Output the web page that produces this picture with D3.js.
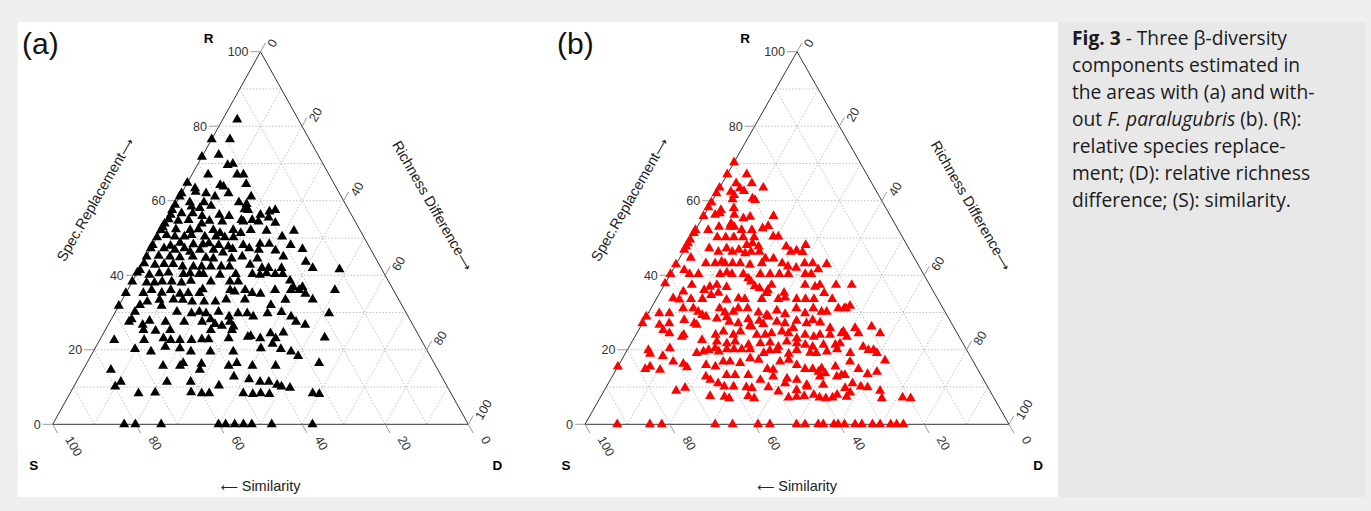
<!DOCTYPE html>
<html><head><meta charset="utf-8">
<script src="https://cdn.jsdelivr.net/npm/d3@7"></script>
<style>body{margin:0;background:#efefef;}svg{display:block}</style>
</head><body><svg id="c" width="1371" height="511"></svg>
<script>
// ---- data (ternary compositions, %) ----
const tickValues = [0, 20, 40, 60, 80, 100];
const gridValues = [10, 20, 30, 40, 50, 60, 70, 80, 90];
const vertexLabels = ["R", "S", "D"];
const axisTitles = [["Spec.Replacement", "\u27f6"], ["Richness Difference", "\u27f6"], ["\u27f5", " Similarity"]];
const panelLabels = ["(a)", "(b)"];

// Panel (a): relative species replacement (R) and relative richness difference (D); S = 100 - R - D
const rA = [81.8,76.5,76.5,71.8,72.3,69.6,69.9,67.0,67.0,67.0,64.8,64.5,63.3,64.2,63.8,62.0,62.4,62.0,61.1,62.0,61.1,61.1,59.6,59.6,59.6,59.1,58.9,57.5,58.4,58.0,58.6,57.5,57.1,57.5,56.2,57.7,56.2,55.0,56.6,56.6,55.9,56.2,55.9,54.8,54.8,54.1,53.9,52.9,54.6,54.8,53.9,54.6,54.4,54.4,54.4,55.5,52.1,52.3,52.1,52.3,52.1,51.3,52.1,52.1,51.9,51.9,51.3,50.2,50.8,50.4,50.4,50.8,50.4,50.4,50.2,50.2,50.4,48.1,47.9,48.7,48.3,48.3,48.6,48.1,47.7,48.1,47.2,48.4,48.4,48.1,47.2,47.2,46.8,47.2,46.3,46.8,46.8,46.1,47.0,46.8,46.6,47.0,45.0,45.2,45.0,44.8,45.0,44.7,44.5,44.5,45.0,44.5,45.0,43.2,42.8,43.0,43.0,42.3,42.3,42.3,42.3,42.3,42.3,42.8,41.9,41.9,41.9,43.6,41.9,41.6,41.4,40.7,40.1,40.5,40.7,40.3,40.5,40.3,40.3,40.1,40.3,40.3,40.1,40.5,40.3,40.3,38.6,38.3,38.0,38.0,38.3,38.3,38.0,38.5,38.3,38.3,38.3,36.8,36.8,35.2,35.2,36.0,35.3,36.0,35.0,35.2,35.2,36.2,36.0,35.6,36.0,35.2,35.0,36.0,36.0,36.0,35.0,36.0,31.8,32.0,32.9,33.4,33.5,33.4,32.9,32.9,32.9,33.5,33.5,32.0,33.4,33.5,30.2,31.8,30.2,29.8,30.2,29.8,30.2,29.8,29.8,29.8,30.1,29.8,28.9,28.2,27.5,28.2,26.7,27.8,27.5,27.5,27.5,26.9,27.5,26.2,26.4,27.5,26.7,28.9,28.9,25.3,25.1,25.3,25.3,25.3,23.7,24.4,24.6,22.6,22.6,23.1,22.6,22.6,22.6,22.8,22.8,23.1,23.5,23.1,23.1,23.3,20.2,19.5,20.8,20.4,19.5,19.5,19.5,20.4,21.6,20.2,19.5,18.3,15.7,15.7,16.4,14.6,16.2,15.7,16.4,15.7,15.7,16.4,14.6,12.8,12.1,11.4,11.4,11.4,11.4,10.6,11.4,10.1,10.4,10.1,9.8,8.3,8.5,8.6,8.3,8.3,8.3,8.1,8.3,8.1,8.3,8.1,0,0,0,0,0,0,0,0,0,0];
const dA = [3.5,0,4.4,0,3.8,7.3,8.4,3.9,10.9,12.4,0,14.3,2.6,8.2,9.2,11.3,3.2,0,0,5.9,8.5,17.2,3.2,6.6,15.0,17.1,0,0,4.2,6.4,8.8,18.3,23.6,24.8,21.9,17.3,0.3,0.4,2.7,5.4,8.0,12.0,14.5,18.0,20.6,26.5,0,0,2.9,5.3,8.9,10.4,13.6,18.7,22.3,24.2,0,3.5,7.0,8.9,12.6,14.6,17.4,21.6,25.5,32.1,19.6,0,2.0,4.2,6.5,8.0,11.4,14.1,16.3,18.4,30.0,0,4.4,6.3,9.7,12.0,13.3,15.9,18.4,21.8,23.7,25.7,27.9,33.2,0,3.2,6.0,8.1,9.9,12.0,15.3,17.9,19.8,26.2,30.3,36.6,0.1,2.9,5.7,8.2,11.2,14.5,16.4,20.8,23.1,27.0,33.0,0.4,3.2,5.3,7.5,10.1,12.7,14.7,16.9,19.4,21.4,26.1,29.4,31.0,34.1,39.1,41.6,48.2,0.3,0,3.2,5.4,7.5,11.3,12.8,15.1,16.1,20.2,23.9,27.9,29.8,31.2,33.4,35.2,37.8,0,3.6,5.5,7.2,9.5,12.0,14.0,18.9,23.5,25.5,39.5,41.7,0,4.2,5.8,8.6,10.4,13.1,15.0,17.7,18.0,24.7,26.0,28.3,30.4,32.5,35.5,39.3,41.3,43.3,49.9,0,5.0,6.3,9.0,12.3,14.6,17.1,20.0,22.7,25.0,29.5,36.5,39.3,45.8,4.7,10.3,14.8,18.5,20.2,22.0,24.8,29.7,31.9,36.8,40.0,51.6,28.0,23.9,4.6,4.9,8.3,9.4,13.4,17.9,22.2,25.6,28.9,30.4,27.5,44.8,47.4,42.9,33.8,9.2,12.2,15.6,25.4,30.5,35.8,40.2,43.2,3.5,10.7,15.1,17.1,19.3,22.1,24.5,26.1,30.8,35.2,38.4,42.1,53.8,9.7,13.9,16.7,20.4,23.5,28.2,33.7,39.9,42.1,44.8,47.6,49.9,18.7,22.8,23.2,28.1,27.7,34.5,36.1,40.2,45.8,55.9,6.7,37.2,41.2,21.8,27.5,44.2,46.3,48.7,10.7,10.0,34.8,50.0,52.2,16.5,20.4,29.0,31.7,33.5,41.7,44.1,45.9,48.1,58.4,60.1,17.2,19.9,26.1,39.9,41.6,43.8,45.9,47.9,52.7,62.5];

// Panel (b)
const rB = [70.3,67.1,67.1,64.7,64.7,63.5,63.5,62.4,63.3,62.6,62.0,60.6,60.2,61.5,60.4,59.6,58.2,57.5,56.2,56.6,58.0,56.2,55.3,55.7,55.9,55.9,52.1,51.3,52.1,53.0,53.0,53.0,53.9,52.1,52.1,52.6,53.2,50.4,50.4,49.6,47.7,48.6,50.2,50.2,50.2,50.2,50.2,48.6,47.7,48.1,46.8,44.7,47.2,46.3,47.2,46.3,46.8,45.9,46.3,46.3,47.7,46.3,46.6,48.1,46.2,43.2,43.2,43.6,43.2,43.2,43.2,42.8,43.2,44.5,44.5,43.2,42.3,42.0,43.2,43.2,43.0,42.9,40.3,41.4,40.3,40.3,40.3,40.7,40.3,40.3,39.2,38.3,40.3,40.3,40.3,40.3,40.3,40.3,41.6,37.8,37.4,36.9,37.4,36.0,36.8,37.1,36.5,36.0,37.4,35.3,37.4,36.9,37.4,37.4,37.4,33.8,33.5,35.6,33.6,33.6,34.7,35.3,33.4,33.8,33.6,33.6,35.2,33.6,34.0,33.6,33.6,33.6,35.2,33.6,31.1,31.8,31.1,31.1,30.2,31.1,30.0,30.2,31.1,31.1,30.0,29.3,30.5,29.6,31.1,29.8,31.1,30.2,30.2,31.1,31.1,28.9,27.1,29.8,29.8,26.7,27.1,28.0,27.1,29.3,28.9,28.4,28.7,27.5,27.1,28.2,26.2,27.8,26.9,28.9,27.5,27.1,25.8,27.8,27.1,28.0,27.3,25.8,24.4,23.5,25.8,24.4,26.2,24.4,25.3,24.4,23.5,24.0,26.7,24.0,24.9,24.0,24.9,26.4,24.0,24.0,24.4,24.9,24.4,23.1,24.0,23.5,24.0,24.0,24.9,22.6,22.2,21.7,22.2,21.3,21.7,21.9,20.8,22.2,21.7,21.3,20.8,21.3,21.3,21.7,19.9,20.4,18.9,18.3,19.1,19.5,19.9,20.4,19.5,20.1,20.1,20.1,20.1,19.1,19.8,19.9,18.9,19.9,19.2,19.1,19.5,20.1,19.1,20.8,19.9,19.9,19.1,15.5,14.8,15.5,14.6,16.8,16.2,15.3,15.9,15.5,16.8,16.8,16.4,17.7,17.3,14.8,14.6,16.8,17.3,15.9,14.8,14.8,14.1,15.0,15.5,13.2,16.8,14.8,13.5,14.1,17.1,12.8,11.9,13.2,13.2,13.2,11.9,12.8,12.3,11.9,10.6,12.8,13.7,12.8,13.2,9.0,9.8,11.0,10.1,10.1,9.9,9.7,9.9,8.8,11.0,9.2,10.1,10.6,9.7,11.0,10.1,9.9,9.0,7.6,7.4,7.0,7.6,7.0,7.2,7.4,7.6,7.9,7.2,7.0,7.2,7.9,7.4,8.5,7.0,7.2,7.0,0,0,0,0,0,0,0,0,0,0,0,0,0,0,0,0,0,0,0,0,0];
const dB = [0,0,4.6,7.0,3.3,10.3,0,3.2,4.9,6.2,0,9.2,10.0,4.4,4.6,0,0,3.3,2.6,3.5,6.1,7.1,9.7,11.1,16.5,0,0,0,3.0,5.1,7.7,8.7,7.5,10.9,13.3,15.6,16.6,19.2,20.4,0,0,0,6.1,8.1,10.0,12.2,14.8,15.2,17.1,14.1,0,2.6,5.7,8.3,9.8,11.6,12.9,14.8,18.0,16.0,23.6,25.4,26.6,28.0,28.2,6.9,9.1,10.4,11.4,13.2,15.0,17.5,20.1,20.3,22.2,24.9,26.7,28.8,30.2,32.1,35.5,0,0,2.7,4.5,6.6,11.7,13.1,14.5,17.2,18.9,20.0,21.2,23.5,25.7,27.8,31.8,33.2,34.2,0,6.5,11.0,12.4,10.1,15.0,21.5,22.9,25.1,25.3,29.3,33.2,35.8,36.7,40.5,44.2,3.9,5.5,5.4,8.2,10.9,12.4,13.8,16.7,19.3,20.9,24.9,25.2,28.8,30.2,33.1,35.2,37.2,38.8,41.5,45.6,46.6,7.6,10.0,11.6,16.2,18.0,19.9,20.6,22.8,25.9,28.2,30.0,32.4,34.3,37.0,38.3,40.7,41.9,44.2,46.0,0,0,2.6,5.0,4.2,6.3,9.4,12.2,13.0,14.1,16.9,19.1,20.3,22.6,24.4,26.2,27.2,28.6,28.8,31.5,33.6,36.2,36.0,38.7,39.7,41.8,44.9,48.3,50.0,50.8,52.3,54.5,57.4,5.8,7.7,11.1,11.3,13.0,18.8,20.2,23.0,24.2,25.7,28.5,30.5,31.8,34.0,35.8,38.4,39.9,42.2,43.4,45.8,48.5,16.3,20.0,22.6,24.3,27.9,30.5,32.7,35.2,36.5,39.1,41.3,43.3,45.6,48.4,49.3,5.0,9.8,5.9,9.2,16.8,18.2,19.2,20.5,21.8,23.4,25.1,26.9,28.9,32.6,33.7,35.3,38.6,40.0,43.5,45.0,47.3,49.4,53.0,55.2,56.9,58.1,59.3,0,6.8,7.6,10.4,12.4,15.1,16.4,20.6,23.0,24.2,25.8,28.4,30.1,32.3,35.6,37.1,37.6,39.4,42.0,44.5,46.3,48.0,48.3,51.3,53.9,54.1,57.1,59.9,61.8,62.2,22.1,23.6,26.8,28.8,31.9,35.4,38.0,41.5,44.0,47.0,49.0,49.8,53.0,54.7,17.0,18.7,25.9,27.8,30.0,33.1,34.5,38.3,41.2,41.7,45.3,47.3,50.9,56.5,57.6,60.0,61.7,65.1,25.7,29.2,30.5,34.7,36.4,44.4,46.2,47.9,50.0,51.7,53.3,54.8,55.5,58.0,58.3,66.5,71.3,73.3,7.6,15.3,18.1,30.7,34.8,40.8,43.6,49.9,51.9,55.0,56.2,58.7,59.7,61.2,63.7,65.3,67.8,69.6,72.1,73.5,75.1];

// ---- layout ----
const panels = [
  {label: panelLabels[0], r: rA, d: dA, color: "#000000", xS: 52.7, xD: 468.3, yB: 424.3, yT: 51.7, lx: 22},
  {label: panelLabels[1], r: rB, d: dB, color: "#ff0000", xS: 585, xD: 1009, yB: 424.3, yT: 51.7, lx: 557}
];

const svg = d3.select("#c");
svg.append("rect").attr("x", 0).attr("y", 0).attr("width", 1371).attr("height", 511).attr("fill", "#efefef");
svg.append("rect").attr("x", 18).attr("y", 22).attr("width", 1040).attr("height", 475).attr("fill", "#ffffff");
svg.append("rect").attr("x", 1058).attr("y", 22).attr("width", 307).attr("height", 475).attr("fill", "#e8e8e8");

const font = "'Liberation Sans', Arial, sans-serif";
const arrowFont = "'DejaVu Sans', sans-serif";

function titleText(g, parts) {
  const t = g.append("text").attr("text-anchor", "middle").attr("font-family", font).attr("font-size", 14.5).attr("fill", "#222");
  parts.forEach(s => {
    const ts = t.append("tspan").text(s);
    if (s === "\u27f6" || s === "\u27f5") ts.attr("font-family", arrowFont).attr("font-size", 12);
  });
  return t;
}

panels.forEach(p => {
  const g = svg.append("g");
  const xs = d3.scaleLinear().domain([0, 100]).range([p.xS, p.xD]);
  const ys = d3.scaleLinear().domain([0, 100]).range([p.yB, p.yT]);
  const P = (R, D) => [xs(D + R / 2), ys(R)];

  // grid
  const gl = [];
  gridValues.forEach(v => {
    gl.push([P(v, 0), P(v, 100 - v)]);          // constant R
    gl.push([P(0, v), P(100 - v, v)]);          // constant D
    gl.push([P(0, 100 - v), P(100 - v, 0)]);    // constant S
  });
  g.selectAll("line.grid").data(gl).join("line").attr("class", "grid")
    .attr("x1", d => d[0][0]).attr("y1", d => d[0][1]).attr("x2", d => d[1][0]).attr("y2", d => d[1][1])
    .attr("stroke", "#b0b0b0").attr("stroke-width", 0.8).attr("stroke-dasharray", "1.5,1.8");

  // triangle outline
  const tri = [P(0, 0), P(0, 100), P(100, 0)];
  g.append("path").attr("d", "M" + tri.map(t => t.join(",")).join("L") + "Z")
    .attr("fill", "none").attr("stroke", "#333").attr("stroke-width", 1);

  const apex = P(100, 0), sV = P(0, 0), dV = P(0, 100);
  const norm = v => { const l = Math.hypot(v[0], v[1]); return [v[0] / l, v[1] / l]; };
  const upRight = norm([apex[0] - sV[0], apex[1] - sV[1]]);
  const downRight = norm([dV[0] - apex[0], dV[1] - apex[1]]);
  const tl = 10;
  const tfs = 12.5;

  // left axis (R)
  tickValues.forEach(v => {
    const b = P(v, 0);
    g.append("line").attr("x1", b[0]).attr("y1", b[1]).attr("x2", b[0] - tl).attr("y2", b[1]).attr("stroke", "#999");
    g.append("text").attr("x", b[0] - tl - 2).attr("y", b[1]).attr("dy", "0.35em")
      .attr("text-anchor", "end").attr("font-family", font).attr("font-size", tfs).attr("fill", "#333").text(v);
  });
  // right axis (D)
  tickValues.forEach(v => {
    const b = P(100 - v, v);
    const e = [b[0] + upRight[0] * tl, b[1] + upRight[1] * tl];
    g.append("line").attr("x1", b[0]).attr("y1", b[1]).attr("x2", e[0]).attr("y2", e[1]).attr("stroke", "#999");
    const lx = e[0] + 5, ly = e[1] + 3;
    g.append("text").attr("transform", `translate(${lx},${ly}) rotate(-60)`).attr("dy", "0.35em")
      .attr("font-family", font).attr("font-size", tfs).attr("fill", "#333").text(v);
  });
  // bottom axis (S)
  tickValues.forEach(v => {
    const b = P(0, 100 - v);
    const e = [b[0] + downRight[0] * tl, b[1] + downRight[1] * tl];
    g.append("line").attr("x1", b[0]).attr("y1", b[1]).attr("x2", e[0]).attr("y2", e[1]).attr("stroke", "#999");
    const lx = e[0] + 11, ly = e[1] + 4;
    g.append("text").attr("transform", `translate(${lx},${ly}) rotate(60)`).attr("dy", "0.35em")
      .attr("font-family", font).attr("font-size", tfs).attr("fill", "#333").text(v);
  });

  // vertex labels
  g.append("text").attr("x", apex[0] - 52).attr("y", 43).attr("text-anchor", "middle")
    .attr("font-family", font).attr("font-weight", "bold").attr("font-size", 13.5).text(vertexLabels[0]);
  g.append("text").attr("x", sV[0] - 19).attr("y", 470).attr("text-anchor", "middle")
    .attr("font-family", font).attr("font-weight", "bold").attr("font-size", 13.5).text(vertexLabels[1]);
  g.append("text").attr("x", dV[0] + 29).attr("y", 470).attr("text-anchor", "middle")
    .attr("font-family", font).attr("font-weight", "bold").attr("font-size", 13.5).text(vertexLabels[2]);

  // axis titles
  const lm = P(50, 0), rm = P(50, 50), bm = P(0, 50);
  titleText(g, axisTitles[0]).attr("transform", `translate(${lm[0] - 57},${lm[1] - 36}) rotate(-60)`);
  titleText(g, axisTitles[1]).attr("transform", `translate(${rm[0] + 64},${rm[1] - 30}) rotate(60)`);
  titleText(g, axisTitles[2]).attr("transform", `translate(${bm[0]},491)`);

  // panel label
  g.append("text").attr("x", p.lx).attr("y", 54).attr("font-family", font).attr("font-size", 30).attr("fill", "#111").text(p.label);

  // points
  const pts = p.r.map((R, i) => P(R, p.d[i]));
  g.selectAll("path.pt").data(pts).join("path").attr("class", "pt")
    .attr("transform", d => `translate(${d[0]},${d[1]})`)
    .attr("d", d3.symbol(d3.symbolTriangle, 44)())
    .attr("fill", p.color);
});

// caption
const cap = svg.append("text").attr("font-family", "'Open Sans', 'Noto Sans', sans-serif").attr("font-size", 19.2).attr("fill", "#1a1a1a");
const capLines = [
  [["Fig. 3", "bold"], [" - Three \u03b2-diversity", ""]],
  [["components estimated in", ""]],
  [["the areas with (a) and with-", ""]],
  [["out ", ""], ["F. paralugubris", "italic"], [" (b). (R):", ""]],
  [["relative species replace-", ""]],
  [["ment; (D): relative richness", ""]],
  [["difference; (S): similarity.", ""]]
];
capLines.forEach((line, i) => {
  line.forEach((seg, j) => {
    const t = cap.append("tspan").text(seg[0]);
    if (j === 0) t.attr("x", 1072).attr("y", 45 + i * 27);
    if (seg[1] === "bold") t.attr("font-weight", "bold");
    if (seg[1] === "italic") t.attr("font-style", "italic");
  });
});
</script></body></html>
